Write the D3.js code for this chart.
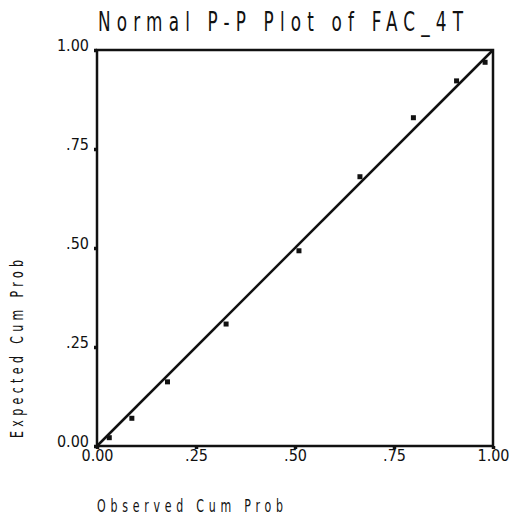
<!DOCTYPE html>
<html>
<head>
<meta charset="utf-8">
<script src="https://cdn.jsdelivr.net/npm/d3@7"></script>
<style>
  body { margin: 0; background: #fff; }
  text { font-family: "Liberation Sans Narrow", "DejaVu Sans Condensed", "Liberation Sans", sans-serif; fill: #111; }
</style>
</head>
<body>
<svg id="chart" width="509" height="522"></svg>
<script>
// observed vs expected cumulative probabilities
const observed = [0.031, 0.088, 0.178, 0.326, 0.510, 0.664, 0.799, 0.908, 0.980]
const expected = [0.021, 0.070, 0.162, 0.308, 0.493, 0.680, 0.829, 0.922, 0.969]
const tickValues = [0, 0.25, 0.5, 0.75, 1]
const tickLabels = ['0.00', '.25', '.50', '.75', '1.00']

const svg = d3.select('#chart')
const plotLeft = 97, plotRight = 493, plotTop = 50, plotBottom = 446
const squeeze = 0.72

const x = d3.scaleLinear().domain([0, 1]).range([plotLeft, plotRight])
const y = d3.scaleLinear().domain([0, 1]).range([plotBottom, plotTop])

// narrow letters, wide spacing, like the old plotter font
function spacedText(transform, len, size, str) {
  svg.append('text')
    .attr('transform', `${transform} scale(${squeeze},1)`)
    .attr('textLength', len / squeeze).attr('lengthAdjust', 'spacing')
    .style('font-size', size + 'px')
    .style('font-weight', 300)
    .text(str)
}

spacedText('translate(98,31)', 365, 26, 'Normal P-P Plot of FAC_4T')

// frame
svg.append('rect')
  .attr('x', plotLeft).attr('y', plotTop)
  .attr('width', plotRight - plotLeft).attr('height', plotBottom - plotTop)
  .attr('fill', 'none').attr('stroke', '#111').attr('stroke-width', 2.5)

// y axis
const yAxis = svg.append('g')
  .attr('transform', `translate(${plotLeft},0)`)
  .call(d3.axisLeft(y).tickValues(tickValues).tickFormat((d, i) => tickLabels[i]).tickSize(3).tickPadding(5))
yAxis.select('.domain').remove()
yAxis.selectAll('.tick line').attr('stroke', '#111').attr('stroke-width', 3.5)
yAxis.selectAll('.tick text').attr('dy', '0.05em').style('font-size', '16px').style('font-family', null)

// x axis
const xAxis = svg.append('g')
  .attr('transform', `translate(0,${plotBottom})`)
  .call(d3.axisBottom(x).tickValues(tickValues).tickFormat((d, i) => tickLabels[i]).tickSize(3).tickPadding(1))
xAxis.select('.domain').remove()
xAxis.selectAll('.tick line').attr('stroke', '#111').attr('stroke-width', 3.5)
xAxis.selectAll('.tick text').style('font-size', '16px').style('font-family', null)

// reference line
svg.append('line')
  .attr('x1', x(0)).attr('y1', y(0))
  .attr('x2', x(1)).attr('y2', y(1))
  .attr('stroke', '#111').attr('stroke-width', 2.5)

// points
svg.selectAll('.pt')
  .data(observed.map((o, i) => [o, expected[i]]))
  .enter()
  .append('rect')
  .attr('class', 'pt')
  .attr('x', d => x(d[0]) - 2.5)
  .attr('y', d => y(d[1]) - 2.5)
  .attr('width', 5).attr('height', 5)
  .attr('fill', '#111')

// axis titles
spacedText('translate(97,512)', 186, 17, 'Observed Cum Prob')
spacedText('translate(23,438) rotate(-90)', 178, 17, 'Expected Cum Prob')
</script>
</body>
</html>
